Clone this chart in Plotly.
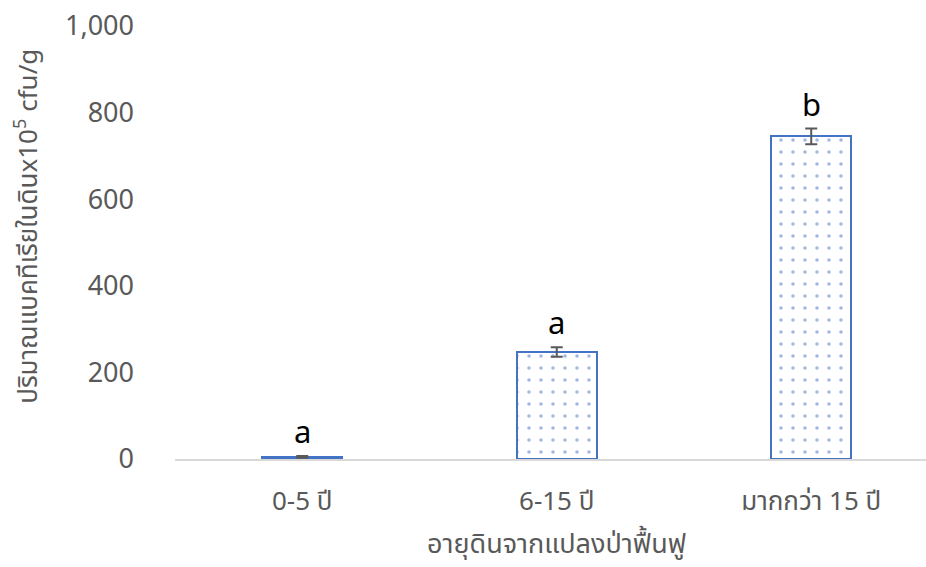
import plotly.graph_objects as go

# Bacterial counts in soil by age of restored forest plot
categories = ["0-5 ปี", "6-15 ปี", "มากกว่า 15 ปี"]
counts = [5, 247, 745]
errors = [2, 11, 18]
letters = ["a", "a", "b"]

y_ticks = [0, 200, 400, 600, 800, 1000]
y_tick_labels = ["0", "200", "400", "600", "800", "1,000"]

FONT = "Noto Sans Thai, Noto Sans, sans-serif"
BLUE = "#4472C4"
GREY = "#595959"

fig = go.Figure()
fig.add_trace(go.Bar(
    x=categories,
    y=counts,
    width=0.315,
    marker=dict(
        color="white",
        line=dict(color=BLUE, width=2),
        pattern=dict(shape=".", fgcolor=BLUE, bgcolor="white", size=12, solidity=0.07),
    ),
    error_y=dict(type="data", array=errors, visible=True, color=GREY, thickness=2, width=6),
    showlegend=False,
))

# significance letters above the error bars
for cat, val, err, lab in zip(categories, counts, errors, letters):
    fig.add_annotation(
        x=cat, y=val + err, text=lab, showarrow=False,
        yanchor="bottom", yshift=-3,
        font=dict(family=FONT, size=31, color="black"),
    )

# y-axis title placed as a rotated annotation
fig.add_annotation(
    xref="paper", yref="paper", x=-0.196, y=0.538,
    text="ปริมาณแบคทีเรียในดินx10<sup>5</sup> cfu/g",
    textangle=-90, showarrow=False, xanchor="center", yanchor="middle",
    font=dict(family=FONT, size=26, color=GREY),
)

# x-axis title centred under the middle category, at the foot of the figure
fig.add_annotation(
    xref="x", yref="paper", x=categories[1], y=-0.249,
    text="อายุดินจากแปลงป่าฟื้นฟู",
    showarrow=False, xanchor="center", yanchor="bottom",
    font=dict(family=FONT, size=27, color=GREY),
)

fig.update_layout(
    width=926, height=567,
    margin=dict(l=175, r=0, t=26, b=108),
    plot_bgcolor="white", paper_bgcolor="white",
    font=dict(family=FONT, size=27, color=GREY),
    bargap=0,
)
fig.update_xaxes(
    range=[-0.5, 2.451],
    showline=True, linecolor="#D9D9D9", linewidth=2,
    showgrid=False, ticks="",
    tickfont=dict(size=26, color=GREY),
    ticklabelstandoff=18,
)
fig.update_yaxes(
    range=[0, 1000],
    tickvals=y_ticks, ticktext=y_tick_labels,
    showgrid=False, zeroline=False, showline=False, ticks="",
    tickfont=dict(size=27, color=GREY),
    ticklabelstandoff=40,
)

fig.write_html("out.html")
